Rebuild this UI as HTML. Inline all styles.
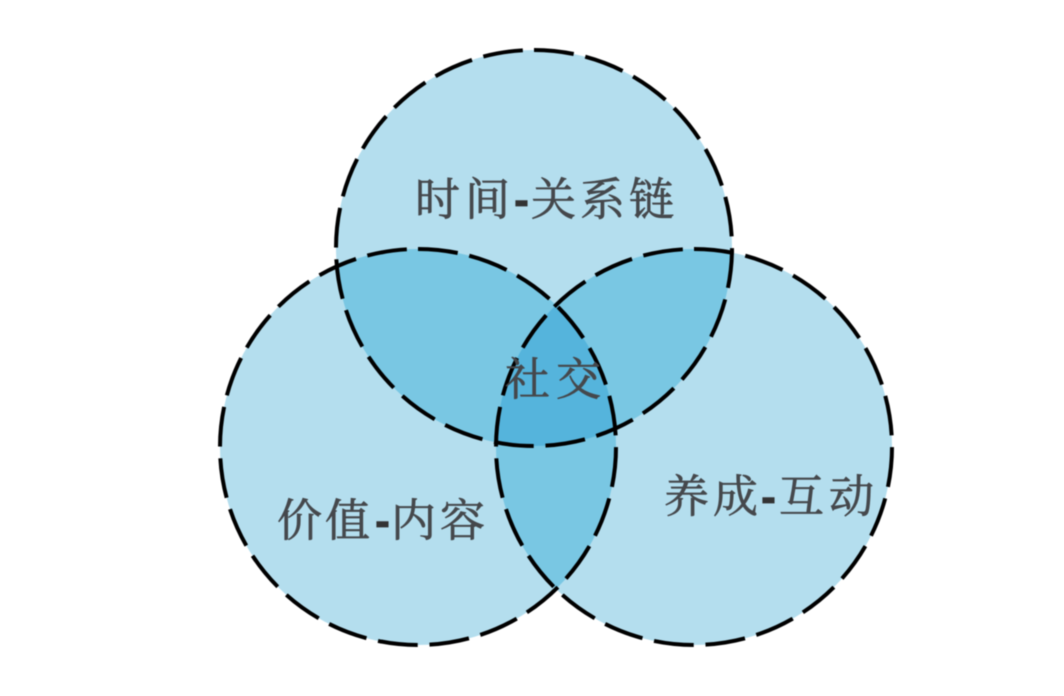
<!DOCTYPE html>
<html><head><meta charset="utf-8"><style>
html,body{margin:0;padding:0;background:#fff;width:1064px;height:696px;overflow:hidden}
svg{display:block;filter:blur(.5px)}
text{font-family:"Liberation Serif","Noto Serif CJK SC",serif;font-size:45px;fill:#45484c;stroke:#45484c;stroke-width:.7px}
.d{font-family:"Liberation Sans",sans-serif;font-weight:bold;fill:#333;stroke:#333}
circle.l{fill:none;stroke:#000;stroke-width:4;stroke-dasharray:40 11.84}
</style></head><body>
<svg width="1064" height="696" viewBox="0 0 1064 696" xmlns="http://www.w3.org/2000/svg">
<defs>
<clipPath id="ct"><circle cx="534" cy="248" r="198"/></clipPath>
<clipPath id="cl"><circle cx="418" cy="447" r="198"/></clipPath>
<clipPath id="cr"><circle cx="694" cy="447" r="198"/></clipPath>
</defs>
<circle cx="534" cy="248" r="198" fill="#b4deee"/>
<circle cx="418" cy="447" r="198" fill="#b4deee"/>
<circle cx="694" cy="447" r="198" fill="#b4deee"/>
<g clip-path="url(#ct)"><circle cx="418" cy="447" r="198" fill="#79c7e3"/><circle cx="694" cy="447" r="198" fill="#79c7e3"/></g>
<g clip-path="url(#cl)"><circle cx="694" cy="447" r="198" fill="#79c7e3"/></g>
<g clip-path="url(#ct)"><g clip-path="url(#cl)"><circle cx="694" cy="447" r="198" fill="#55b4dc"/></g></g>
<circle class="l" cx="534" cy="248" r="198" transform="rotate(-90 534 248)"/>
<circle class="l" cx="418" cy="447" r="198" transform="rotate(-90 418 447)"/>
<circle class="l" cx="694" cy="447" r="198" transform="rotate(-90 694 447)"/>
<text x="415" y="215">时</text><text x="465" y="215">间</text><text class="d" x="514" y="215">-</text><text x="531" y="215">关</text><text x="580" y="215">系</text><text x="629" y="215">链</text>
<text x="505" y="395">社</text><text x="556" y="395">交</text>
<text x="277" y="536">价</text><text x="325" y="536">值</text><text class="d" x="375" y="536">-</text><text x="391" y="536">内</text><text x="440" y="536">容</text>
<text x="664" y="512">养</text><text x="713" y="512">成</text><text class="d" x="761" y="512">-</text><text x="779" y="512">互</text><text x="829" y="512">动</text>
</svg>
</body></html>
